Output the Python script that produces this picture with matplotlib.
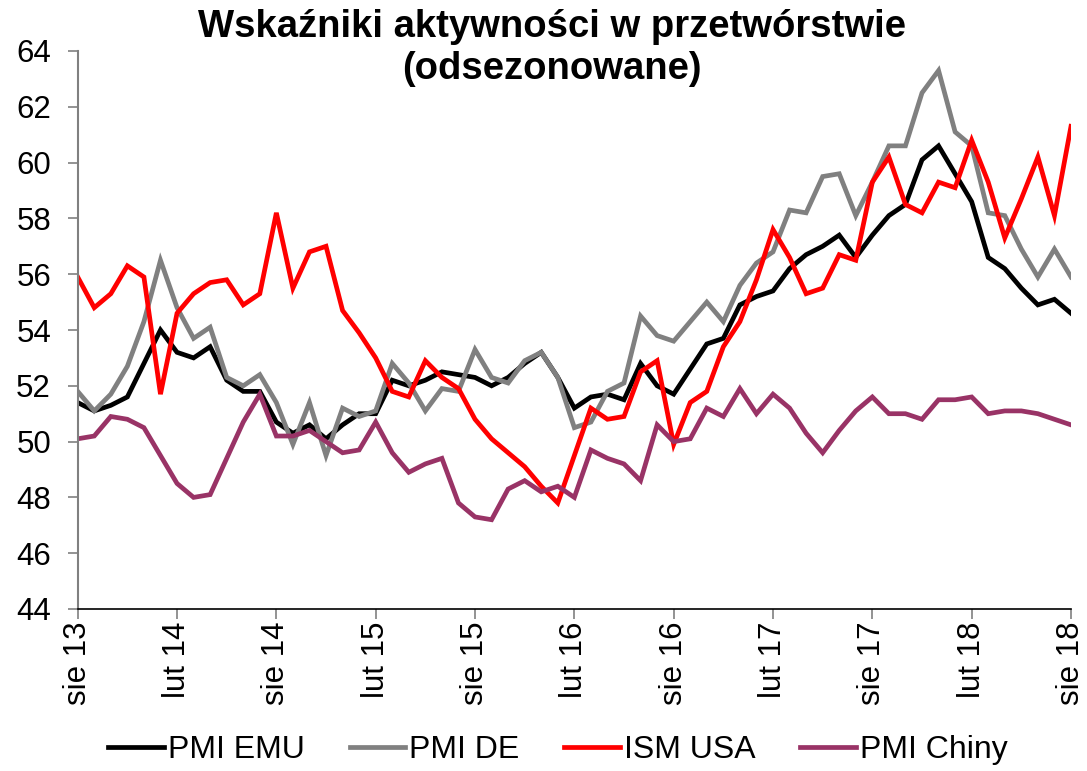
import matplotlib
matplotlib.use("Agg")
import matplotlib.pyplot as plt
import numpy as np

months = list(range(61))  # sie 13 .. sie 18, monthly
tick_pos = list(range(0, 61, 6))
tick_labels = ["sie 13", "lut 14", "sie 14", "lut 15", "sie 15", "lut 16",
               "sie 16", "lut 17", "sie 17", "lut 18", "sie 18"]

pmi_emu = [51.4, 51.1, 51.3, 51.6, 52.8, 54.0, 53.2, 53.0, 53.4, 52.2, 51.8, 51.8,
           50.7, 50.3, 50.6, 50.1, 50.6, 51.0, 51.0, 52.2, 52.0, 52.2, 52.5, 52.4,
           52.3, 52.0, 52.3, 52.8, 53.2, 52.3, 51.2, 51.6, 51.7, 51.5, 52.8, 52.0,
           51.7, 52.6, 53.5, 53.7, 54.9, 55.2, 55.4, 56.2, 56.7, 57.0, 57.4, 56.6,
           57.4, 58.1, 58.5, 60.1, 60.6, 59.6, 58.6, 56.6, 56.2, 55.5, 54.9, 55.1, 54.6]
pmi_de = [51.8, 51.1, 51.7, 52.7, 54.3, 56.5, 54.8, 53.7, 54.1, 52.3, 52.0, 52.4,
          51.4, 49.9, 51.4, 49.5, 51.2, 50.9, 51.1, 52.8, 52.1, 51.1, 51.9, 51.8,
          53.3, 52.3, 52.1, 52.9, 53.2, 52.3, 50.5, 50.7, 51.8, 52.1, 54.5, 53.8,
          53.6, 54.3, 55.0, 54.3, 55.6, 56.4, 56.8, 58.3, 58.2, 59.5, 59.6, 58.1,
          59.3, 60.6, 60.6, 62.5, 63.3, 61.1, 60.6, 58.2, 58.1, 56.9, 55.9, 56.9, 55.9]
ism_usa = [55.9, 54.8, 55.3, 56.3, 55.9, 51.7, 54.6, 55.3, 55.7, 55.8, 54.9, 55.3,
           58.2, 55.5, 56.8, 57.0, 54.7, 53.9, 53.0, 51.8, 51.6, 52.9, 52.3, 51.9,
           50.8, 50.1, 49.6, 49.1, 48.4, 47.8, 49.5, 51.2, 50.8, 50.9, 52.5, 52.9,
           49.9, 51.4, 51.8, 53.4, 54.3, 55.8, 57.6, 56.6, 55.3, 55.5, 56.7, 56.5,
           59.3, 60.2, 58.5, 58.2, 59.3, 59.1, 60.8, 59.3, 57.3, 58.7, 60.2, 58.1, 61.3]
pmi_chiny = [50.1, 50.2, 50.9, 50.8, 50.5, 49.5, 48.5, 48.0, 48.1, 49.4, 50.7, 51.7,
             50.2, 50.2, 50.4, 50.0, 49.6, 49.7, 50.7, 49.6, 48.9, 49.2, 49.4, 47.8,
             47.3, 47.2, 48.3, 48.6, 48.2, 48.4, 48.0, 49.7, 49.4, 49.2, 48.6, 50.6,
             50.0, 50.1, 51.2, 50.9, 51.9, 51.0, 51.7, 51.2, 50.3, 49.6, 50.4, 51.1,
             51.6, 51.0, 51.0, 50.8, 51.5, 51.5, 51.6, 51.0, 51.1, 51.1, 51.0, 50.8, 50.6]

series = [("PMI EMU", pmi_emu, "#000000"),
          ("PMI DE", pmi_de, "#808080"),
          ("ISM USA", ism_usa, "#FF0000"),
          ("PMI Chiny", pmi_chiny, "#993366")]

plt.rcParams['font.family'] = ['Liberation Sans', 'DejaVu Sans']

fig = plt.figure(figsize=(10.87, 7.71), dpi=100)
ax = fig.add_axes([77.7 / 1087, 1 - 609 / 771, (1071 - 77.7) / 1087, (609 - 51) / 771])

for name, vals, col in series:
    ax.plot(months, vals, color=col, lw=3.4, label=name, solid_joinstyle='miter')

ax.set_xlim(0, 60)
ax.set_ylim(44, 64)
ax.set_yticks(np.arange(44, 65, 2))
ax.set_xticks(tick_pos)
ax.set_xticklabels(tick_labels, rotation=90, fontsize=22.5)
ax.tick_params(axis='y', labelsize=22.5, length=7.2, width=1.2, color='#808080', pad=12, direction='out')
ax.tick_params(axis='x', length=7.2, width=1.2, color='#808080', pad=2, direction='out')
for s in ['top', 'right']:
    ax.spines[s].set_visible(False)
ax.spines['left'].set_color('#808080')
ax.spines['left'].set_linewidth(1.5)
ax.spines['bottom'].set_color('#000000')
ax.spines['bottom'].set_linewidth(1.2)

fig.text(0.508, 1 - 48 / 771, "Wskaźniki aktywności w przetwórstwie\n(odsezonowane)",
         ha='center', va='center', fontsize=27.5, fontweight='bold', linespacing=1.2)

fig.legend(loc='center', bbox_to_anchor=(558 / 1087, 1 - 750 / 771), ncol=4, frameon=False,
           fontsize=23, handlelength=1.75, handletextpad=0.12, columnspacing=1.4)

fig.savefig("out.png", dpi=100)
